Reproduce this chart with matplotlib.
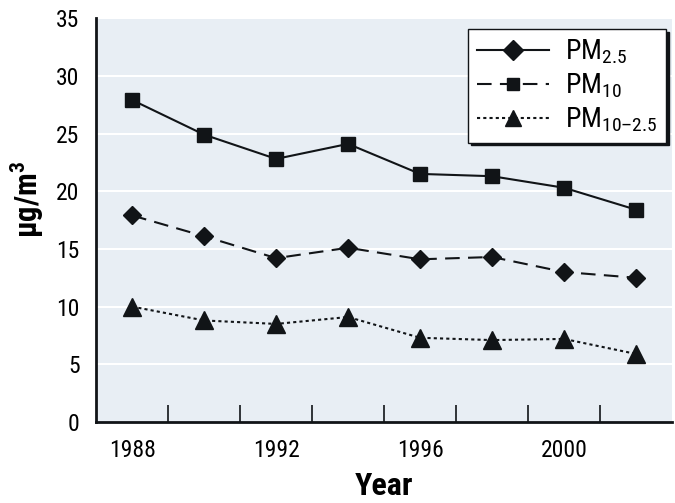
import matplotlib
matplotlib.use("Agg")
import matplotlib.pyplot as plt
from matplotlib.lines import Line2D

FONT = 'Roboto Condensed'
plt.rcParams['font.family'] = [FONT, 'DejaVu Sans']
plt.rcParams['mathtext.fontset'] = 'custom'
plt.rcParams['mathtext.rm'] = FONT
plt.rcParams['mathtext.it'] = FONT
plt.rcParams['mathtext.bf'] = FONT + ':bold'

years = [1988, 1990, 1992, 1994, 1996, 1998, 2000, 2002]
solid_square = [27.9, 24.9, 22.8, 24.1, 21.5, 21.3, 20.3, 18.4]
dashed_diamond = [17.9, 16.1, 14.2, 15.1, 14.1, 14.3, 13.0, 12.5]
dotted_triangle = [10.0, 8.8, 8.5, 9.1, 7.3, 7.1, 7.2, 5.9]
legend_labels = ['PM$_{2.5}$', 'PM$_{10}$', 'PM$_{10\u20132.5}$']
xtick_labels = [1988, 1992, 1996, 2000]
yticks = [0, 5, 10, 15, 20, 25, 30, 35]

fig = plt.figure(figsize=(6.75, 5.03), dpi=100)
ax = fig.add_axes([0.1425, 0.161, 0.853, 0.803])
ax.set_facecolor('#e8eef4')
for y in yticks[1:]:
    ax.axhline(y, color='white', lw=1.5, zorder=1)

c = '#111417'
dash = (0, (7, 4))
dot = (0, (1.5, 1.5))
ax.plot(years, solid_square, '-', color=c, lw=1.5, marker='s', ms=10.5, zorder=3)
ax.plot(years, dashed_diamond, color=c, lw=1.5, ls=dash, marker='D', ms=9.5, zorder=3)
ax.plot(years, dotted_triangle, color=c, lw=1.5, ls=dot, marker='^', ms=12.5, zorder=3)

ax.set_xlim(1987, 2003)
ax.set_ylim(0, 35)
ax.set_yticks(yticks)
ax.set_xticks(xtick_labels)
ax.set_xticks([1989, 1991, 1993, 1995, 1997, 1999, 2001], minor=True)
ax.tick_params(axis='x', which='major', length=0, labelsize=17, pad=12)
ax.tick_params(axis='x', which='minor', direction='in', length=12, width=1.2, color=c)
ax.tick_params(axis='y', length=0, labelsize=17, pad=12)
for s in ['top', 'right']:
    ax.spines[s].set_visible(False)
for s in ['left', 'bottom']:
    ax.spines[s].set_color(c)
    ax.spines[s].set_linewidth(2)

ax.set_xlabel('Year', fontsize=23, fontweight='bold', labelpad=7)
ax.set_ylabel('μg/m$^{\\mathbf{3}}$', fontsize=22, fontweight='bold')
ax.yaxis.set_label_coords(-0.088, 0.55)

handles = [
    Line2D([], [], color=c, lw=1.5, marker='D', ms=10),
    Line2D([], [], color=c, lw=1.5, ls=dash, marker='s', ms=9),
    Line2D([], [], color=c, lw=1.5, ls=dot, marker='^', ms=12),
]
leg = ax.legend(handles, legend_labels, loc='upper right', bbox_to_anchor=(0.99, 0.972),
                borderaxespad=0, fontsize=20, frameon=True, fancybox=False,
                shadow={'color': c, 'alpha': 1},
                handlelength=2.6, labelspacing=0.2, borderpad=0.3, handletextpad=0.6)
leg.get_frame().set_edgecolor(c)
leg.get_frame().set_linewidth(1)
leg.get_frame().set_facecolor('white')
leg.set_zorder(5)

fig.savefig('out.png', dpi=100)
